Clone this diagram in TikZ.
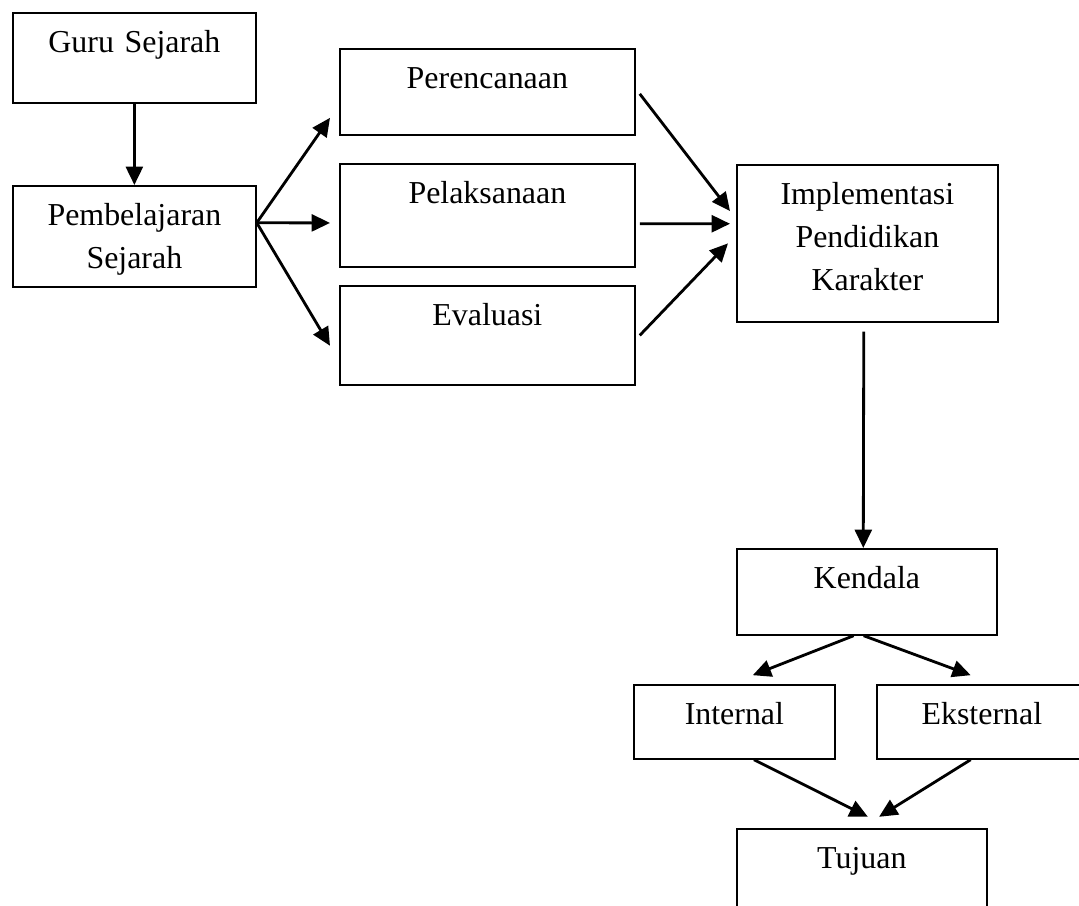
\documentclass[tikz,border=0pt]{standalone}
\usepackage{fontspec}
\setmainfont{Liberation Serif}
\usetikzlibrary{arrows.meta}

\begin{document}
\begin{tikzpicture}[x=0.025cm, y=-0.025cm,
    kotak/.style={draw, line width=1.2pt, inner sep=0pt, anchor=north west, align=center,
                  text height=1cm, font=\fontsize{22.7}{30.6}\selectfont},
    panah/.style={-{Triangle[length=13pt, width=12pt]}, line width=2pt}]

        \useasboundingbox (0,0) rectangle (1079,906);
        \clip (0,0) rectangle (1079,906);

        \node[kotak, text width=6.075cm, text depth=1.25cm] (guru) at (12,12) {Guru Sejarah};
        \node[kotak, text width=6.075cm, text depth=1.525cm] (pemb) at (12,185) {Pembelajaran\\Sejarah};
        \node[kotak, text width=7.375cm, text depth=1.15cm] (peren) at (339,48) {Perencanaan};
        \node[kotak, text width=7.375cm, text depth=1.575cm] (pelak) at (339,163) {Pelaksanaan};
        \node[kotak, text width=7.375cm, text depth=1.475cm] (evaluasi) at (339,285) {Evaluasi};
        \node[kotak, text width=6.525cm, text depth=2.925cm] (impl) at (736,164) {Implementasi\\Pendidikan\\Karakter};
        \node[kotak, text width=6.5cm, text depth=1.15cm] (kendala) at (736,548) {Kendala};
        \node[kotak, text width=5.025cm, text depth=0.85cm] (internal) at (633,684) {Internal};
        \node[kotak, text width=5.25cm, text depth=0.85cm] (eksternal) at (876,684) {Eksternal};
        \node[kotak, text width=6.25cm, text depth=1.5cm] (tujuan) at (736,828) {Tujuan};

        \path[panah]
        (guru) edge (pemb)
        ([yshift=.34cm]pemb.east) edge ([xshift=-.225cm, yshift=-.65cm]peren.west)
        ([yshift=.34cm]pemb.east) edge ([xshift=-.225cm, yshift=-.19cm]pelak.west)
        ([yshift=.34cm]pemb.east) edge ([xshift=-.225cm, yshift=-.26cm]evaluasi.west)
        ([xshift=.1cm, yshift=-.05cm]peren.east) edge ([xshift=-.15cm, yshift=.81cm]impl.west)
        ([xshift=.1cm, yshift=-.21cm]pelak.east) edge ([xshift=-.15cm, yshift=.49cm]impl.west)
        ([xshift=.1cm]evaluasi.east) edge ([xshift=-.2cm]impl.west)
        ([xshift=-.09cm, yshift=-.22cm]impl.south) edge ([xshift=-.09cm]kendala.north)
        ([xshift=-.33cm]kendala.south) edge ([xshift=.46cm, yshift=.22cm]internal.north)
        ([xshift=-.08cm]kendala.south) edge ([xshift=-.28cm, yshift=.22cm]eksternal.north)
        ([xshift=.49cm]internal.south) edge ([xshift=.15cm, yshift=.28cm]tujuan.north)
        ([xshift=-.28cm]eksternal.south) edge ([xshift=.43cm, yshift=.28cm]tujuan.north);
    \end{tikzpicture}
\end{document}
